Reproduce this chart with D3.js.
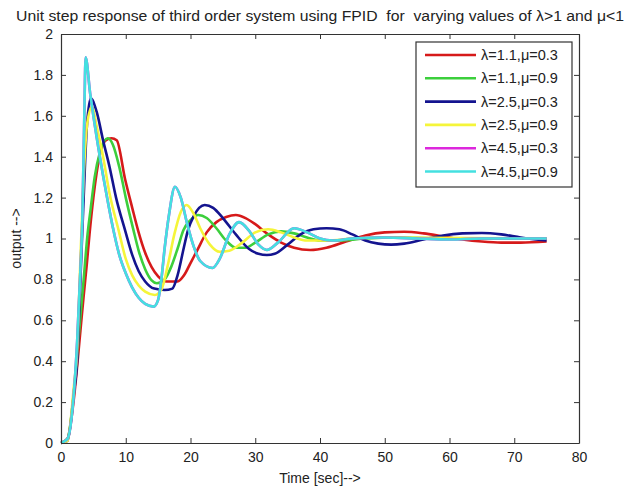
<!DOCTYPE html>
<html>
<head>
<meta charset="utf-8">
<script src="https://cdn.jsdelivr.net/npm/d3@7"></script>
<style>
  body { margin: 0; background: #fff; }
  svg { display: block; font-family: "Liberation Sans", Arial, sans-serif; }
</style>
</head>
<body>
<div id="chart"></div>
<script>
// values
var seriesNames = ["λ=1.1,μ=0.3", "λ=1.1,μ=0.9", "λ=2.5,μ=0.3", "λ=2.5,μ=0.9", "λ=4.5,μ=0.3", "λ=4.5,μ=0.9"];
var seriesColors = ["#d61a1a", "#3ccf3c", "#14148f", "#f5f53a", "#dc28dc", "#44e0e0"];

var tRed = [0, 1, 2, 3, 3.5, 4, 4.4, 5, 5.5, 6, 6.9, 7.8, 8.6, 9.9, 11, 11.9, 13, 14, 15, 16.3, 18, 19, 20, 21, 22.5, 24, 25.5, 27, 28.5, 30, 32, 34, 36, 38.5, 41, 44, 47, 50, 53, 56, 59, 62, 65, 68, 71, 75];
var vRed = [0, 0.02, 0.22, 0.55, 0.72, 0.88, 1.02, 1.2, 1.32, 1.41, 1.48, 1.49, 1.48, 1.29, 1.15, 1.04, 0.93, 0.86, 0.815, 0.79, 0.79, 0.82, 0.88, 0.94, 1.03, 1.08, 1.105, 1.115, 1.1, 1.07, 1.02, 0.98, 0.955, 0.944, 0.955, 0.985, 1.015, 1.03, 1.033, 1.025, 1.01, 0.995, 0.985, 0.98, 0.98, 0.985];

var tGreen = [0, 1, 2, 3, 3.5, 4.1, 4.6, 5.2, 6, 7.2, 8, 9, 10, 11.2, 12, 13, 14, 14.8, 16, 17, 18, 18.9, 20, 21.2, 22.5, 24, 25.5, 27, 28.5, 30, 32, 34, 36, 38, 40, 43, 47, 52, 60, 75];
var vGreen = [0, 0.02, 0.25, 0.62, 0.8, 1.02, 1.15, 1.3, 1.42, 1.49, 1.46, 1.35, 1.2, 1.04, 0.94, 0.85, 0.795, 0.781, 0.8, 0.86, 0.95, 1.04, 1.09, 1.115, 1.1, 1.05, 0.99, 0.955, 0.955, 0.98, 1.02, 1.035, 1.025, 1.005, 0.99, 0.99, 1.0, 1.005, 1.0, 1.0];

var tBlue = [0, 1, 2, 2.5, 3, 3.5, 4, 4.6, 5.5, 6.5, 7.5, 8.5, 9.9, 11, 12, 13, 14.4, 16, 17.2, 18, 19, 19.6, 20.5, 22.2, 23.5, 25, 27, 29, 30.5, 31.8, 33, 35, 37, 39, 41, 43, 45, 47, 49, 51, 53, 56, 59, 62, 65, 68, 71, 75];
var vBlue = [0, 0.01, 0.25, 0.4, 0.8, 1.2, 1.55, 1.686, 1.62, 1.48, 1.35, 1.2, 1.04, 0.92, 0.84, 0.79, 0.755, 0.748, 0.755, 0.82, 0.96, 1.04, 1.11, 1.164, 1.15, 1.1, 1.02, 0.95, 0.925, 0.919, 0.925, 0.97, 1.02, 1.045, 1.05, 1.045, 1.02, 0.99, 0.975, 0.97, 0.975, 0.995, 1.015, 1.025, 1.027, 1.02, 1.005, 0.99];

var tYellow = [0, 1, 2, 2.5, 3, 3.5, 4, 4.8, 5.5, 6.5, 7.5, 8.9, 10, 11, 12, 13, 14.5, 15.5, 16.5, 17.5, 18.5, 19.4, 20.5, 21.5, 23, 24.5, 26, 28, 30, 32, 34, 36, 38, 41, 45, 50, 75];
var vYellow = [0, 0.01, 0.28, 0.45, 0.9, 1.3, 1.55, 1.645, 1.55, 1.4, 1.22, 1.04, 0.9, 0.82, 0.77, 0.74, 0.724, 0.75, 0.87, 1.02, 1.13, 1.164, 1.12, 1.05, 0.97, 0.935, 0.94, 0.98, 1.03, 1.045, 1.03, 1.005, 0.99, 0.99, 1.0, 1.005, 1.0];

var tCyan = [0, 1, 2, 2.5, 3, 3.3, 3.6, 3.8, 4.5, 5, 6, 7, 8.1, 9, 10, 11, 12, 13, 14.3, 15, 15.5, 16, 16.7, 17.6, 18.5, 19.5, 20.5, 21.5, 23.4, 24.5, 26, 27.5, 29, 30.5, 31.8, 33.5, 36, 38, 40, 42, 45, 50, 55, 60, 65, 70, 75];
var vCyan = [0, 0.02, 0.25, 0.5, 0.85, 1.1, 1.6, 1.886, 1.71, 1.6, 1.4, 1.22, 1.04, 0.92, 0.83, 0.76, 0.71, 0.68, 0.667, 0.7, 0.8, 0.95, 1.12, 1.253, 1.2, 1.07, 0.96, 0.89, 0.856, 0.9, 1.02, 1.08, 1.04, 0.97, 0.944, 0.98, 1.05, 1.03, 1.0, 0.99, 1.0, 1.005, 1.0, 0.995, 1.0, 1.0, 1.0];

// magenta curve sits under the cyan one
var tMagenta = tCyan.slice();
var vMagenta = vCyan.slice();

var xTicks = [0, 10, 20, 30, 40, 50, 60, 70, 80];
var yTicks = [0, 0.2, 0.4, 0.6, 0.8, 1, 1.2, 1.4, 1.6, 1.8, 2];

var seriesT = [tRed, tGreen, tBlue, tYellow, tMagenta, tCyan];
var seriesV = [vRed, vGreen, vBlue, vYellow, vMagenta, vCyan];

var width = 631, height = 491;
var margin = {left: 61, right: 52, top: 34, bottom: 48};

var svg = d3.select("#chart").append("svg")
  .attr("width", width)
  .attr("height", height);

var x = d3.scaleLinear().domain([0, 80]).range([margin.left, width - margin.right]);
var y = d3.scaleLinear().domain([0, 2]).range([height - margin.bottom, margin.top]);

var line = d3.line()
  .x(function(d){ return x(d[0]); })
  .y(function(d){ return y(d[1]); })
  .curve(d3.curveMonotoneX);

var plot = svg.append("g");
seriesT.forEach(function(ts, i){
  var pts = ts.map(function(t, j){ return [t, seriesV[i][j]]; });
  plot.append("path")
    .datum(pts)
    .attr("d", line)
    .attr("fill", "none")
    .attr("stroke", seriesColors[i])
    .attr("stroke-width", 2.6)
    .attr("stroke-linejoin", "round");
});

// axes, ticks on all four sides pointing inward
var axisColor = "#333";
svg.append("g")
  .attr("transform", "translate(0," + y(0) + ")")
  .call(d3.axisBottom(x).tickValues(xTicks).tickSizeInner(-5).tickSizeOuter(0).tickPadding(9).tickFormat(d3.format("d")));
svg.append("g")
  .attr("transform", "translate(0," + y(2) + ")")
  .call(d3.axisTop(x).tickValues(xTicks).tickSizeInner(-5).tickSizeOuter(0).tickFormat(""));
svg.append("g")
  .attr("transform", "translate(" + x(0) + ",0)")
  .call(d3.axisLeft(y).tickValues(yTicks).tickSizeInner(-5).tickSizeOuter(0).tickPadding(8).tickFormat(function(d){ return d3.format("")(+d.toFixed(1)); }));
svg.append("g")
  .attr("transform", "translate(" + x(80) + ",0)")
  .call(d3.axisRight(y).tickValues(yTicks).tickSizeInner(-5).tickSizeOuter(0).tickFormat(""));

svg.selectAll(".domain").attr("stroke", axisColor).attr("stroke-width", 1.2);
svg.selectAll(".tick line").attr("stroke", axisColor);
svg.selectAll(".tick text").attr("fill", "#222").style("font-size", "14px");

// title and axis labels
svg.append("text")
  .attr("x", (x(0) + x(80)) / 2)
  .attr("y", 21)
  .attr("text-anchor", "middle")
  .attr("textLength", 608)
  .attr("lengthAdjust", "spacingAndGlyphs")
  .style("font-size", "14px")
  .style("white-space", "pre")
  .attr("fill", "#222")
  .text("Unit step response of third order system using FPID  for  varying values of λ>1 and μ<1");

svg.append("text")
  .attr("x", (x(0) + x(80)) / 2)
  .attr("y", 483)
  .attr("text-anchor", "middle")
  .style("font-size", "14px")
  .attr("fill", "#222")
  .text("Time [sec]-->");

svg.append("text")
  .attr("transform", "translate(21," + y(1) + ") rotate(-90)")
  .attr("text-anchor", "middle")
  .style("font-size", "14px")
  .attr("fill", "#222")
  .text("output -->");

// legend
var lg = svg.append("g").attr("transform", "translate(416,42)");
lg.append("rect")
  .attr("width", 156)
  .attr("height", 145)
  .attr("fill", "#fff")
  .attr("stroke", axisColor)
  .attr("stroke-width", 1.2);
seriesNames.forEach(function(name, i){
  var yy = 13 + i * 23.3;
  lg.append("line")
    .attr("x1", 9).attr("x2", 60)
    .attr("y1", yy).attr("y2", yy)
    .attr("stroke", seriesColors[i])
    .attr("stroke-width", 2.6);
  lg.append("text")
    .attr("x", 65)
    .attr("y", yy + 5)
    .style("font-size", "14.5px")
    .attr("fill", "#222")
    .text(name);
});
</script>
</body>
</html>
